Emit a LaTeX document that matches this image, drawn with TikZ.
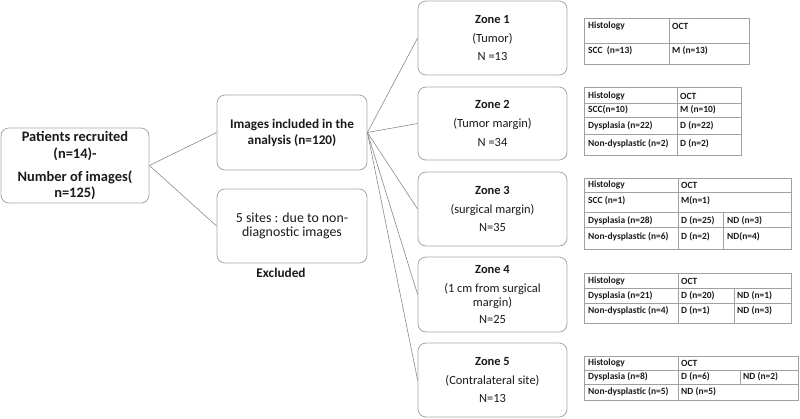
\documentclass[tikz,border=0pt]{standalone}
\usepackage{fontspec}
\setmainfont{Carlito}
\definecolor{boxgray}{HTML}{A6A6A6}
\definecolor{linegray}{HTML}{8A8A8A}
\definecolor{tabgray}{HTML}{A0A0A0}
\definecolor{txt}{HTML}{1A1A1A}
\begin{document}
\begin{tikzpicture}[x=1bp,y=-1bp,
  box/.style={draw=boxgray, rounded corners=8bp, line width=0.8bp, inner sep=0pt, align=center, text=txt},
  conn/.style={draw=linegray, line width=0.6bp},
  tab/.style={draw=tabgray, line width=0.8bp},
  cell/.style={anchor=west, inner sep=0pt, text=txt, font=\bfseries\fontsize{9.5}{11}\selectfont},
  big/.style={font=\fontsize{12.5}{14}\selectfont},
  lbl/.style={inner sep=0pt, text=txt}]
\useasboundingbox (0,0) rectangle (800,418);

% left boxes
\node[box, font=\bfseries\fontsize{14.5}{17}\selectfont, minimum width=148bp, minimum height=75bp] (pat) at (75,165.5)
  {Patients recruited\\[0bp](n=14)-\\[6bp]Number of images(\\[-1bp]n=125)};
\node[box, font=\bfseries\fontsize{13.3}{16}\selectfont, minimum width=150bp, minimum height=75bp] (img) at (292,132.5)
  {Images included in the\\analysis (n=120)};
\node[box, font=\fontsize{13.9}{14.5}\selectfont, minimum width=150bp, minimum height=74bp] (exc) at (292,226)
  {5 sites : due to non-\\diagnostic images};
\node[lbl, font=\bfseries\fontsize{13.3}{15}\selectfont] (exl) at (281,273) {Excluded};

% zone boxes
\node[box, big, minimum width=149bp, minimum height=74bp] (z1) at (492.5,38)
  {\bfseries Zone 1\\[5bp](Tumor)\\[5bp]N =13};
\node[box, big, minimum width=149bp, minimum height=73bp] (z2) at (492.5,123.5)
  {\bfseries Zone 2\\[5bp](Tumor margin)\\[5bp]N =34};
\node[box, big, minimum width=149bp, minimum height=74bp] (z3) at (492.5,209)
  {\bfseries Zone 3\\[5bp](surgical margin)\\[5bp]N=35};
\node[box, big, minimum width=149bp, minimum height=75bp] (z4) at (492.5,294.5)
  {\bfseries Zone 4\\[5bp](1 cm from surgical\\[0bp]margin)\\[3bp]N=25};
\node[box, big, minimum width=149bp, minimum height=74bp] (z5) at (492.5,380)
  {\bfseries Zone 5\\[5bp](Contralateral site)\\[5bp]N=13};

% connectors
\draw[conn] (pat.east) -- (img.west);
\draw[conn] (pat.east) -- (exc.west);
\foreach \z in {z1,z2,z3,z4,z5} \draw[conn] (img.east) -- (\z.west);

% table 1
\draw[tab] (584,18) rectangle (749,64);
\draw[tab] (584,43) -- (749,43);
\draw[tab] (669,18) -- (669,64);
\node[cell] (t1a) at (588,26) {Histology};
\node[cell] (t1b) at (672,26) {OCT};
\node[cell] (t1c) at (588,51) {SCC\ \ (n=13)};
\node[cell] (t1d) at (672,51) {M (n=13)};

% table 2
\draw[tab] (584,87) rectangle (741,155);
\draw[tab] (584,103) -- (741,103) (584,117) -- (741,117) (584,134) -- (741,134);
\draw[tab] (677,87) -- (677,155);
\node[cell] (t2a) at (588,96) {Histology};
\node[cell] (t2b) at (680,96) {OCT};
\node[cell] (t2c) at (588,110) {SCC(n=10)};
\node[cell] (t2d) at (680,110) {M (n=10)};
\node[cell] (t2e) at (588,126) {Dysplasia (n=22)};
\node[cell] (t2f) at (680,126) {D (n=22)};
\node[cell] (t2g) at (588,144) {Non-dysplastic (n=2)};
\node[cell] (t2h) at (680,144) {D (n=2)};

% table 3
\draw[tab] (584,178) rectangle (791,249);
\draw[tab] (584,192) -- (791,192) (584,212) -- (791,212) (584,227) -- (791,227);
\draw[tab] (678,178) -- (678,249);
\draw[tab] (723,212) -- (723,249);
\node[cell] (t3a) at (588,185) {Histology};
\node[cell] (t3b) at (681,185) {OCT};
\node[cell] (t3c) at (588,201) {SCC (n=1)};
\node[cell] (t3d) at (681,201) {M(n=1)};
\node[cell] (t3e) at (588,221) {Dysplasia (n=28)};
\node[cell] (t3f) at (681,221) {D (n=25)};
\node[cell] (t3g) at (727,221) {ND (n=3)};
\node[cell] (t3h) at (588,237) {Non-dysplastic (n=6)};
\node[cell] (t3i) at (681,237) {D (n=2)};
\node[cell] (t3j) at (727,237) {ND(n=4)};

% table 4
\draw[tab] (584,273) rectangle (791,323);
\draw[tab] (584,288) -- (791,288) (584,303) -- (791,303);
\draw[tab] (678,273) -- (678,323);
\draw[tab] (734,288) -- (734,323);
\node[cell] (t4a) at (588,281) {Histology};
\node[cell] (t4b) at (681,281) {OCT};
\node[cell] (t4c) at (588,295.5) {Dysplasia (n=21)};
\node[cell] (t4d) at (681,295.5) {D (n=20)};
\node[cell] (t4e) at (737,295.5) {ND (n=1)};
\node[cell] (t4f) at (588,311) {Non-dysplastic (n=4)};
\node[cell] (t4g) at (681,311) {D (n=1)};
\node[cell] (t4h) at (737,311) {ND (n=3)};

% table 5
\draw[tab] (584,356) rectangle (798,400);
\draw[tab] (584,370) -- (798,370) (584,384) -- (798,384);
\draw[tab] (678,356) -- (678,400);
\draw[tab] (740,370) -- (740,384);
\node[cell] (t5a) at (588,363) {Histology};
\node[cell] (t5b) at (681,363) {OCT};
\node[cell] (t5c) at (588,377) {Dysplasia (n=8)};
\node[cell] (t5d) at (681,377) {D (n=6)};
\node[cell] (t5e) at (743,377) {ND (n=2)};
\node[cell] (t5f) at (588,392) {Non-dysplastic (n=5)};
\node[cell] (t5g) at (681,392) {ND (n=5)};
\end{tikzpicture}
\end{document}
